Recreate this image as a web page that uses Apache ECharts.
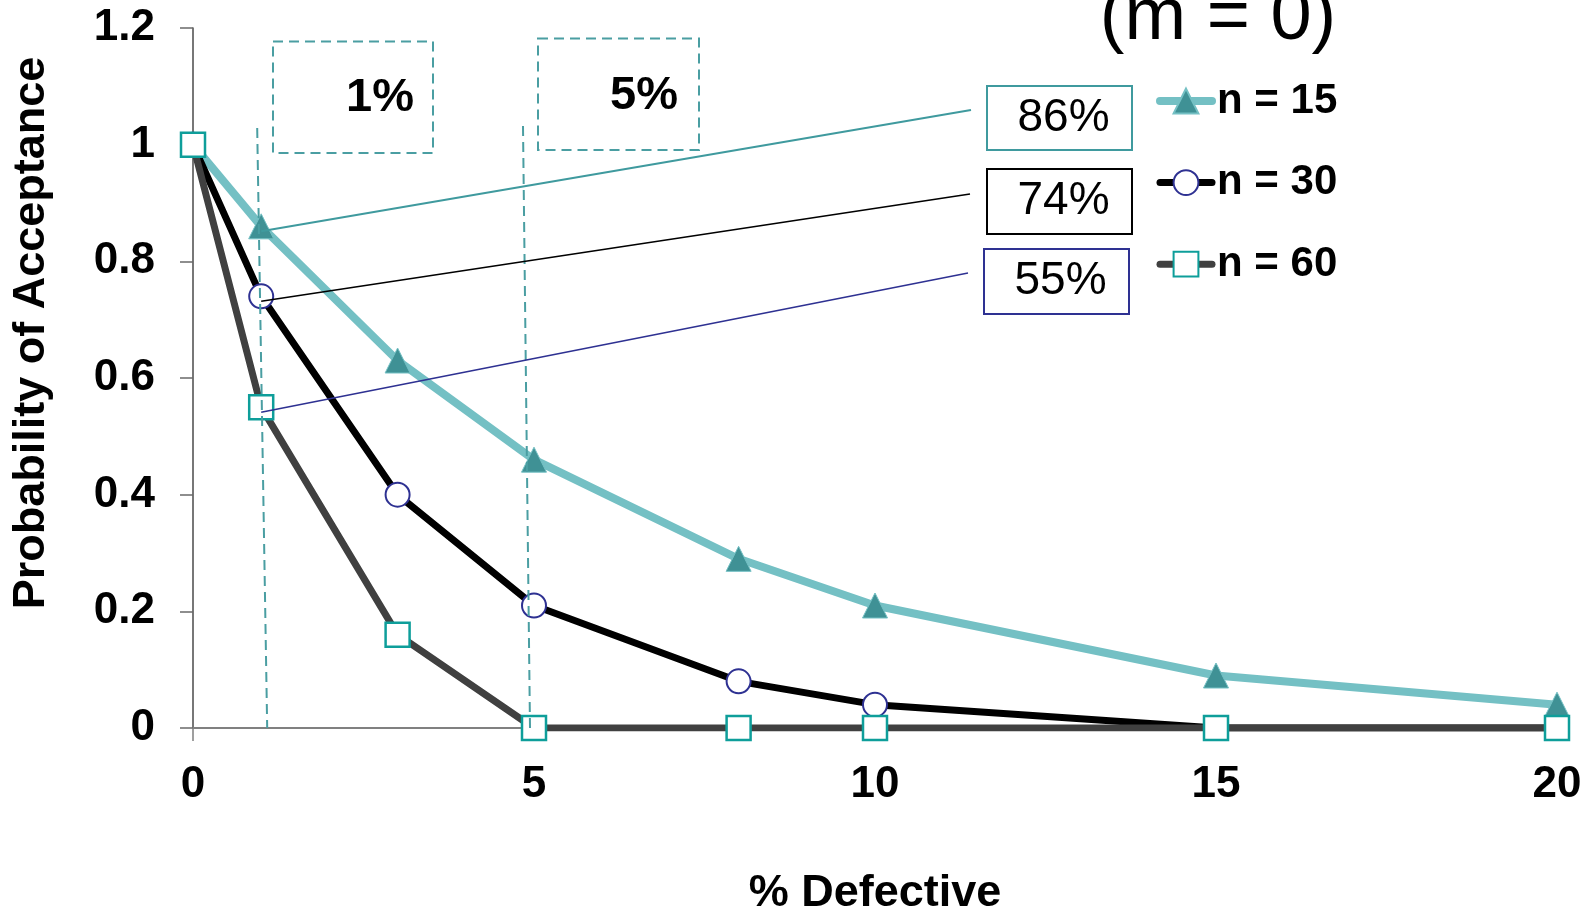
<!DOCTYPE html>
<html>
<head>
<meta charset="utf-8">
<script src="https://cdn.jsdelivr.net/npm/echarts@6/dist/echarts.min.js"></script>
<style>
  html, body { margin: 0; padding: 0; background: #ffffff; }
  #chart { width: 1590px; height: 909px; }
</style>
</head>
<body>
<div id="chart"></div>
<script>
// Operating characteristic curves, acceptance number 0
const defectPct = [0, 1, 3, 5, 8, 10, 15, 20];
const pa15 = [1, 0.86, 0.63, 0.46, 0.29, 0.21, 0.09, 0.04];
const pa30 = [1, 0.74, 0.40, 0.21, 0.08, 0.04, 0, 0];
const pa60 = [1, 0.55, 0.16, 0, 0, 0, 0, 0];
const seriesNames = ['n = 15', 'n = 30', 'n = 60'];
const yTickLabels = ['0', '0.2', '0.4', '0.6', '0.8', '1', '1.2'];
const xTickLabels = ['0', '5', '10', '15', '20'];
const markedLevels = [1, 5];

const FONT = '"Liberation Sans", Arial, Helvetica, sans-serif';

const chart = echarts.init(document.getElementById('chart'), null, { renderer: 'canvas' });

const pairs = vals => defectPct.map((x, i) => [x, vals[i]]);
const lineWidths = [8, 7, 7];

chart.setOption({
  animation: false,
  backgroundColor: '#ffffff',
  grid: { left: 193, right: 33, top: 28, bottom: 181, containLabel: false, outerBoundsMode: 'none' },
  xAxis: {
    type: 'value', min: 0, max: 20, interval: 5,
    name: '% Defective', nameLocation: 'middle', nameGap: 143,
    nameTextStyle: { fontFamily: FONT, fontSize: 45, fontWeight: 'bold', color: '#000' },
    axisLine: { show: true, lineStyle: { color: '#808080', width: 2 } },
    axisTick: { show: true, length: 13, lineStyle: { color: '#808080', width: 1.5 } },
    axisLabel: {
      margin: 35, fontFamily: FONT, fontSize: 44, fontWeight: 'bold', color: '#000',
      formatter: v => xTickLabels[Math.round(v / 5)]
    },
    splitLine: { show: false }
  },
  yAxis: {
    type: 'value', min: 0, max: 1.2, interval: 0.2,
    axisLine: { show: true, onZero: false, lineStyle: { color: '#4a4a4a', width: 1.5 } },
    axisTick: { show: true, length: 13, lineStyle: { color: '#6a6a6a', width: 1.5 } },
    axisLabel: {
      margin: 38, fontFamily: FONT, fontSize: 44, fontWeight: 'bold', color: '#000',
      formatter: v => yTickLabels[Math.round(v / 0.2)]
    },
    splitLine: { show: false }
  },
  legend: {
    orient: 'vertical', left: 1156, top: 79, padding: 0,
    itemWidth: 52, itemHeight: 31, itemGap: 37.6,
    textStyle: { fontFamily: FONT, fontSize: 42, fontWeight: 'bold', color: '#000', lineHeight: 44 },
    data: seriesNames.map((name, i) => ({ name, lineStyle: { width: lineWidths[i], cap: 'round' } }))
  },
  series: [
    {
      name: seriesNames[0], type: 'line', data: pairs(pa15),
      symbol: 'triangle', symbolSize: 25,
      lineStyle: { color: '#74c0c4', width: lineWidths[0] },
      itemStyle: { color: '#3f9195', borderColor: '#74c0c4', borderWidth: 1 }
    },
    {
      name: seriesNames[1], type: 'line', data: pairs(pa30),
      symbol: 'circle', symbolSize: 24,
      lineStyle: { color: '#000000', width: lineWidths[1] },
      itemStyle: { color: '#ffffff', borderColor: '#2e3192', borderWidth: 2 }
    },
    {
      name: seriesNames[2], type: 'line', data: pairs(pa60),
      symbol: 'rect', symbolSize: 24,
      lineStyle: { color: '#404040', width: lineWidths[2] },
      itemStyle: { color: '#ffffff', borderColor: '#0e9e9a', borderWidth: 2.5 }
    }
  ]
});

// Annotations: dashed guides at the highlighted defect levels and value call-outs at 1 %
const toPx = (x, y) => chart.convertToPixel({ gridIndex: 0 }, [x, y]);
const gfx = [];

// dashed guides with their level boxes
const guideStyle = { stroke: '#4a9ea2', lineWidth: 2, lineDash: [10, 6], fill: null };
const guideTopY = [128, 126];
const guideSkew = [[-4, 6], [-11, -4]];
const levelBoxes = [
  { x: 273, y: 41.5, w: 160, h: 111.5, tx: 380, ty: 98 },
  { x: 538, y: 38.5, w: 161, h: 111.5, tx: 644, ty: 96 }
];
markedLevels.forEach((lvl, i) => {
  const base = toPx(lvl, 0);
  gfx.push({
    type: 'line', z: 10,
    shape: { x1: base[0] + guideSkew[i][0], y1: guideTopY[i], x2: base[0] + guideSkew[i][1], y2: base[1] },
    style: guideStyle
  });
  const b = levelBoxes[i];
  gfx.push({ type: 'rect', z: 10, shape: { x: b.x, y: b.y, width: b.w, height: b.h }, style: guideStyle });
  gfx.push({
    type: 'text', z: 11, x: b.tx, y: b.ty,
    style: { text: lvl + '%', font: 'bold 47px ' + FONT, fill: '#000', align: 'center', verticalAlign: 'middle' }
  });
});

// call-outs for the probability of acceptance at 1 % defective
const idx1 = defectPct.indexOf(1);
const callouts = [
  { v: pa15[idx1], color: '#3f9a9e', width: 2, end: [971, 110], box: [987, 86, 145, 64] },
  { v: pa30[idx1], color: '#000000', width: 1.6, end: [970, 194], box: [987, 169, 145, 65] },
  { v: pa60[idx1], color: '#2e3192', width: 1.6, end: [968, 273], box: [984, 249, 145, 65] }
];
callouts.forEach(c => {
  const p = toPx(1, c.v);
  gfx.push({
    type: 'line', z: 12,
    shape: { x1: p[0], y1: p[1] + 5, x2: c.end[0], y2: c.end[1] },
    style: { stroke: c.color, lineWidth: c.width }
  });
  const [bx, by, bw, bh] = c.box;
  gfx.push({
    type: 'rect', z: 12, shape: { x: bx, y: by, width: bw, height: bh },
    style: { fill: '#ffffff', stroke: c.color, lineWidth: 2 }
  });
  gfx.push({
    type: 'text', z: 13, x: bx + bw / 2 + 4, y: by + bh / 2,
    style: { text: Math.round(c.v * 100) + '%', font: '46px ' + FONT, fill: '#000', align: 'center', verticalAlign: 'middle' }
  });
});

// axis title on the left and the plan label at the top
gfx.push({
  type: 'text', z: 5, x: 32, y: 333, rotation: Math.PI / 2,
  style: { text: 'Probability of Acceptance', font: 'bold 45px ' + FONT, fill: '#000', align: 'center', verticalAlign: 'middle' }
});
gfx.push({
  type: 'text', z: 5, x: 1218, y: 19,
  style: { text: '(m = 0)', font: '74px ' + FONT, fill: '#000', align: 'center', verticalAlign: 'middle' }
});

chart.setOption({ graphic: gfx });
</script>
</body>
</html>
